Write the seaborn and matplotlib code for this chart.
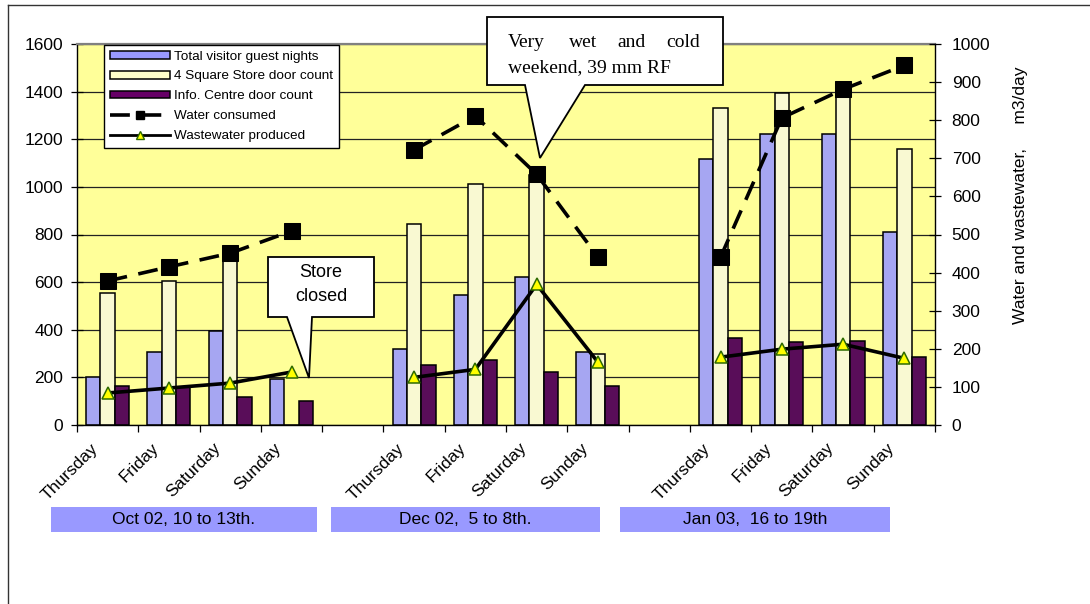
import numpy as np
import pandas as pd
import matplotlib
matplotlib.use("Agg")
import matplotlib.pyplot as plt
import seaborn as sns
from matplotlib.patches import Patch, Polygon, Rectangle
from matplotlib.lines import Line2D
from matplotlib.transforms import Affine2D

# ---- data -------------------------------------------------------------
days = ["Thursday", "Friday", "Saturday", "Sunday"]
weeks = ["Oct 02, 10 to 13th.", "Dec 02,  5 to 8th.", "Jan 03,  16 to 19th"]

guest_nights = [[200, 305, 396, 192], [319, 546, 622, 307], [1119, 1220, 1220, 811]]
store_door = [[553, 606, 740, 0], [844, 1010, 1050, 300], [1331, 1394, 1400, 1161]]
info_door = [[164, 160, 116, 101], [251, 272, 224, 162], [367, 347, 354, 286]]
water_consumed = [[378, 415, 451, 509], [722, 811, 658, 441], [440, 806, 881, 944]]
wastewater = [[84, 97, 110, 139], [125, 146, 369, 165], [178, 199, 212, 175]]

bar_series = ["Total visitor guest nights", "4 Square Store door count", "Info. Centre door count"]
bar_colors = ["#9999FF", "#FFFFCC", "#660066"]

# ---- tidy frames -------------------------------------------------------
rows, line_rows = [], []
for w in range(len(weeks)):
    for d in range(len(days)):
        slot = w * 5 + d
        for name, vals in zip(bar_series, [guest_nights, store_door, info_door]):
            rows.append({"slot": slot, "series": name, "value": vals[w][d]})
        line_rows.append({"slot": slot, "week": w,
                          "water": water_consumed[w][d], "waste": wastewater[w][d]})
bars = pd.DataFrame(rows)
lines = pd.DataFrame(line_rows)
n_slots = 14
slot_labels = []
for w in range(len(weeks)):
    slot_labels += days + ([""] if w < len(weeks) - 1 else [])

# ---- figure -----------------------------------------------------------
plt.rcParams["font.family"] = ["Liberation Sans", "DejaVu Sans"]
W, H = 1090, 604
fig = plt.figure(figsize=(W / 100, H / 100), dpi=100)
fig.patch.set_facecolor("white")
px = Affine2D().scale(1 / W, -1 / H).translate(0, 1) + fig.transFigure

FS = 12.5
L, R, T, B = 77, 935, 44, 425
ax = fig.add_axes([L / W, 1 - B / H, (R - L) / W, (B - T) / H])
ax.set_facecolor("#FFFF99")

sns.barplot(data=bars, x="slot", y="value", hue="series", order=list(range(n_slots)),
            hue_order=bar_series, palette=bar_colors, width=0.7, gap=0,
            edgecolor="black", linewidth=1.1, errorbar=None, legend=False, ax=ax)

ax.set_xlim(-0.5, n_slots - 0.5)
ax.set_ylim(0, 1600)
ax.set_yticks(np.arange(0, 1601, 200))
ax.set_xlabel("")
ax.set_ylabel("")
ax.set_axisbelow(True)
ax.yaxis.grid(True, color="#222222", linewidth=0.9)
ax.xaxis.grid(False)

# day names sit a little left of each slot centre, rotated; tick marks on slot edges
ax.set_xticks(np.arange(n_slots) - 0.2)
ax.set_xticklabels(slot_labels, rotation=45, ha="right", va="center",
                   rotation_mode="anchor", fontsize=FS)
ax.set_xticks(np.arange(-0.5, n_slots, 1), minor=True)
ax.tick_params(axis="x", which="major", length=0, pad=15)
ax.tick_params(axis="x", which="minor", length=5, direction="out", width=0.9)
ax.tick_params(axis="y", direction="inout", length=8, width=0.9, labelsize=FS, pad=6)

for side in ["left", "bottom"]:
    ax.spines[side].set_color("black")
    ax.spines[side].set_linewidth(1)
ax.spines["top"].set_color("#808080")
ax.spines["top"].set_linewidth(1.6)
ax.spines["right"].set_visible(False)

# ---- water / wastewater lines on the right axis ------------------------
ax2 = ax.twinx()
sns.lineplot(data=lines, x="slot", y="water", units="week", estimator=None,
             color="black", linewidth=2.6, linestyle=(0, (5.5, 3.2)),
             marker="s", markersize=11, markerfacecolor="black",
             markeredgecolor="black", ax=ax2, legend=False)
sns.lineplot(data=lines, x="slot", y="waste", units="week", estimator=None,
             color="black", linewidth=2.6, marker="^", markersize=8.5,
             markerfacecolor="#FFFF00", markeredgecolor="#2E6B00",
             markeredgewidth=1.1, ax=ax2, legend=False)
ax2.set_ylim(0, 1000)
ax2.set_yticks(np.arange(0, 1001, 100))
ax2.set_xlim(-0.5, n_slots - 0.5)
ax2.set_xlabel("")
ax2.set_ylabel("")
ax2.tick_params(axis="y", direction="inout", length=8, width=0.9, labelsize=FS, pad=8)
for side in ["left", "bottom", "top"]:
    ax2.spines[side].set_visible(False)
ax2.spines["right"].set_color("black")
ax2.spines["right"].set_linewidth(1)

# ---- legend ------------------------------------------------------------
handles = [Patch(facecolor=c, edgecolor="black", linewidth=1.1) for c in bar_colors]
handles += [
    Line2D([], [], color="black", linewidth=2.6, linestyle=(0, (5.5, 3.2)),
           marker="s", markersize=6, markerfacecolor="black"),
    Line2D([], [], color="black", linewidth=2, marker="^", markersize=6,
           markerfacecolor="#FFFF00", markeredgecolor="#2E6B00"),
]
labels = bar_series + ["Water consumed", "Wastewater produced"]
leg = ax2.legend(handles, labels, loc="upper left",
                 bbox_to_anchor=(104 / W, 1 - 45 / H), bbox_transform=fig.transFigure,
                 fontsize=9.7, handlelength=4.45, handleheight=0.5, labelspacing=0.58,
                 borderpad=0.42, handletextpad=0.35, borderaxespad=0,
                 fancybox=False, framealpha=1, edgecolor="black", numpoints=1)
leg.get_frame().set_linewidth(1)

# ---- callouts ----------------------------------------------------------
wet = Polygon([(487, 17), (723, 17), (723, 85), (585, 85), (540, 158), (525, 85), (487, 85)],
              closed=True, facecolor="white", edgecolor="black", linewidth=1.3,
              transform=px, zorder=10)
fig.add_artist(wet)
serif = ["Liberation Serif", "DejaVu Serif"]
for word, x in zip(["Very", "wet", "and", "cold"], [508, 569, 617, 666]):
    fig.text(x, 47, word, transform=px, family=serif, fontsize=14,
             ha="left", va="baseline", zorder=11)
fig.text(508, 72, "weekend, 39 mm RF", transform=px, family=serif, fontsize=14,
         ha="left", va="baseline", zorder=11)

closed = Polygon([(268, 257), (374, 257), (374, 317), (312, 317), (309, 378), (287, 317), (268, 317)],
                 closed=True, facecolor="white", edgecolor="black", linewidth=1.3,
                 transform=px, zorder=10)
fig.add_artist(closed)
fig.text(321, 277, "Store", transform=px, fontsize=13, ha="center", va="baseline", zorder=11)
fig.text(321, 301, "closed", transform=px, fontsize=13, ha="center", va="baseline", zorder=11)

# ---- week banners under the axis ---------------------------------------
for label, (x0, x1) in zip(weeks, [(51, 317), (331, 600), (620, 890)]):
    fig.add_artist(Rectangle((x0, 507), x1 - x0, 25, facecolor="#9999FF",
                             edgecolor="none", transform=px, zorder=5))
    fig.text((x0 + x1) / 2, 520, label, transform=px, fontsize=FS,
             ha="center", va="center", zorder=6)

fig.text(1020, 195, "Water and wastewater,     m3/day", transform=px, fontsize=FS,
         rotation=90, ha="center", va="center")

# outer frame
fig.add_artist(Line2D([8, 8], [5, 604], color="#333333", linewidth=1, transform=px))
fig.add_artist(Line2D([8, 1090], [5, 5], color="#333333", linewidth=1, transform=px))

fig.savefig("out.png", dpi=100, facecolor="white")
